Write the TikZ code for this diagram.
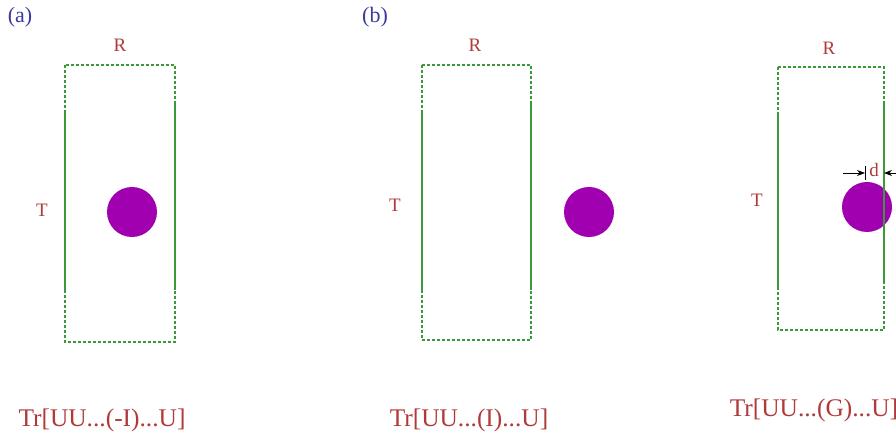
\documentclass[tikz,border=0pt]{standalone}
\usepackage{fontspec}
\setmainfont{Liberation Serif}
\usepackage{tikz}
\usetikzlibrary{arrows.meta}
\definecolor{boxgreen}{HTML}{3A9A3A}
\definecolor{lblred}{HTML}{B03A3A}
\definecolor{ballpurple}{HTML}{A000B0}
\definecolor{tagblue}{HTML}{3A3AA0}

\begin{document}
\begin{tikzpicture}[x=0.5pt,y=-0.5pt,
  frame/.style={boxgreen,thick,dash pattern=on 1.5pt off 1pt},
  wall/.style={boxgreen,thick},
  ball/.style={circle,fill=ballpurple,inner sep=0pt,minimum size=25pt},
  lbl/.style={lblred,font=\fontsize{9.5}{11}\selectfont},
  trace/.style={lblred,font=\fontsize{12.7}{15}\selectfont},
  tag/.style={tagblue,font=\fontsize{11}{13}\selectfont}]

\useasboundingbox (0,0) rectangle (896,438);

%========================
% Pannello (a)
%========================

% regione
\draw[frame] (65,65) rectangle (175,342);
\draw[wall] (65,112) -- (65,293);
\draw[wall] (175,102) -- (175,290);

% sfera
\node[ball] (ballA) at (132,212) {};

% etichette
\node[lbl] (rA) at (120,45) {R};
\node[lbl] (tA) at (42,210) {T};
\node[tag] (tagA) at (20,17) {(a)};
\node[trace] (trA) at (102,420) {Tr[UU...(-I)...U]};

%========================
% Pannello (b)
%========================

% regione
\draw[frame] (422,65) rectangle (531,340);
\draw[wall] (422,113) -- (422,292);
\draw[wall] (531,102) -- (531,290);

% sfera
\node[ball] (ballB) at (589,212) {};

% etichette
\node[lbl] (rB) at (475,45) {R};
\node[lbl] (tB) at (395,205) {T};
\node[tag] (tagB) at (375,17) {(b)};
\node[trace] (trB) at (469,420) {Tr[UU...(I)...U]};

%========================
% Pannello (c)
%========================

% regione
\draw[frame] (778,67) rectangle (884,330);

% sfera
\node[ball] (ballC) at (867,207) {};

\draw[wall] (778,113) -- (778,287);
\draw[wall] (884,102) -- (884,282);

% distanza d
\coordinate (dL) at (865,173);
\coordinate (dR) at (884,173);
\draw[black,-{Stealth[length=4pt]}] (843,173) -- (dL);
\draw[black,-{Stealth[length=4pt]}] (900,173) -- (dR);
\draw[black] (865,166) -- (865,180);
\node[lbl] (dC) at (874,170) {d};

% etichette
\node[lbl] (rC) at (829,48) {R};
\node[lbl] (tC) at (757,200) {T};
\node[trace] (trC) at (814,410) {Tr[UU...(G)...U]};
\end{tikzpicture}
\end{document}
